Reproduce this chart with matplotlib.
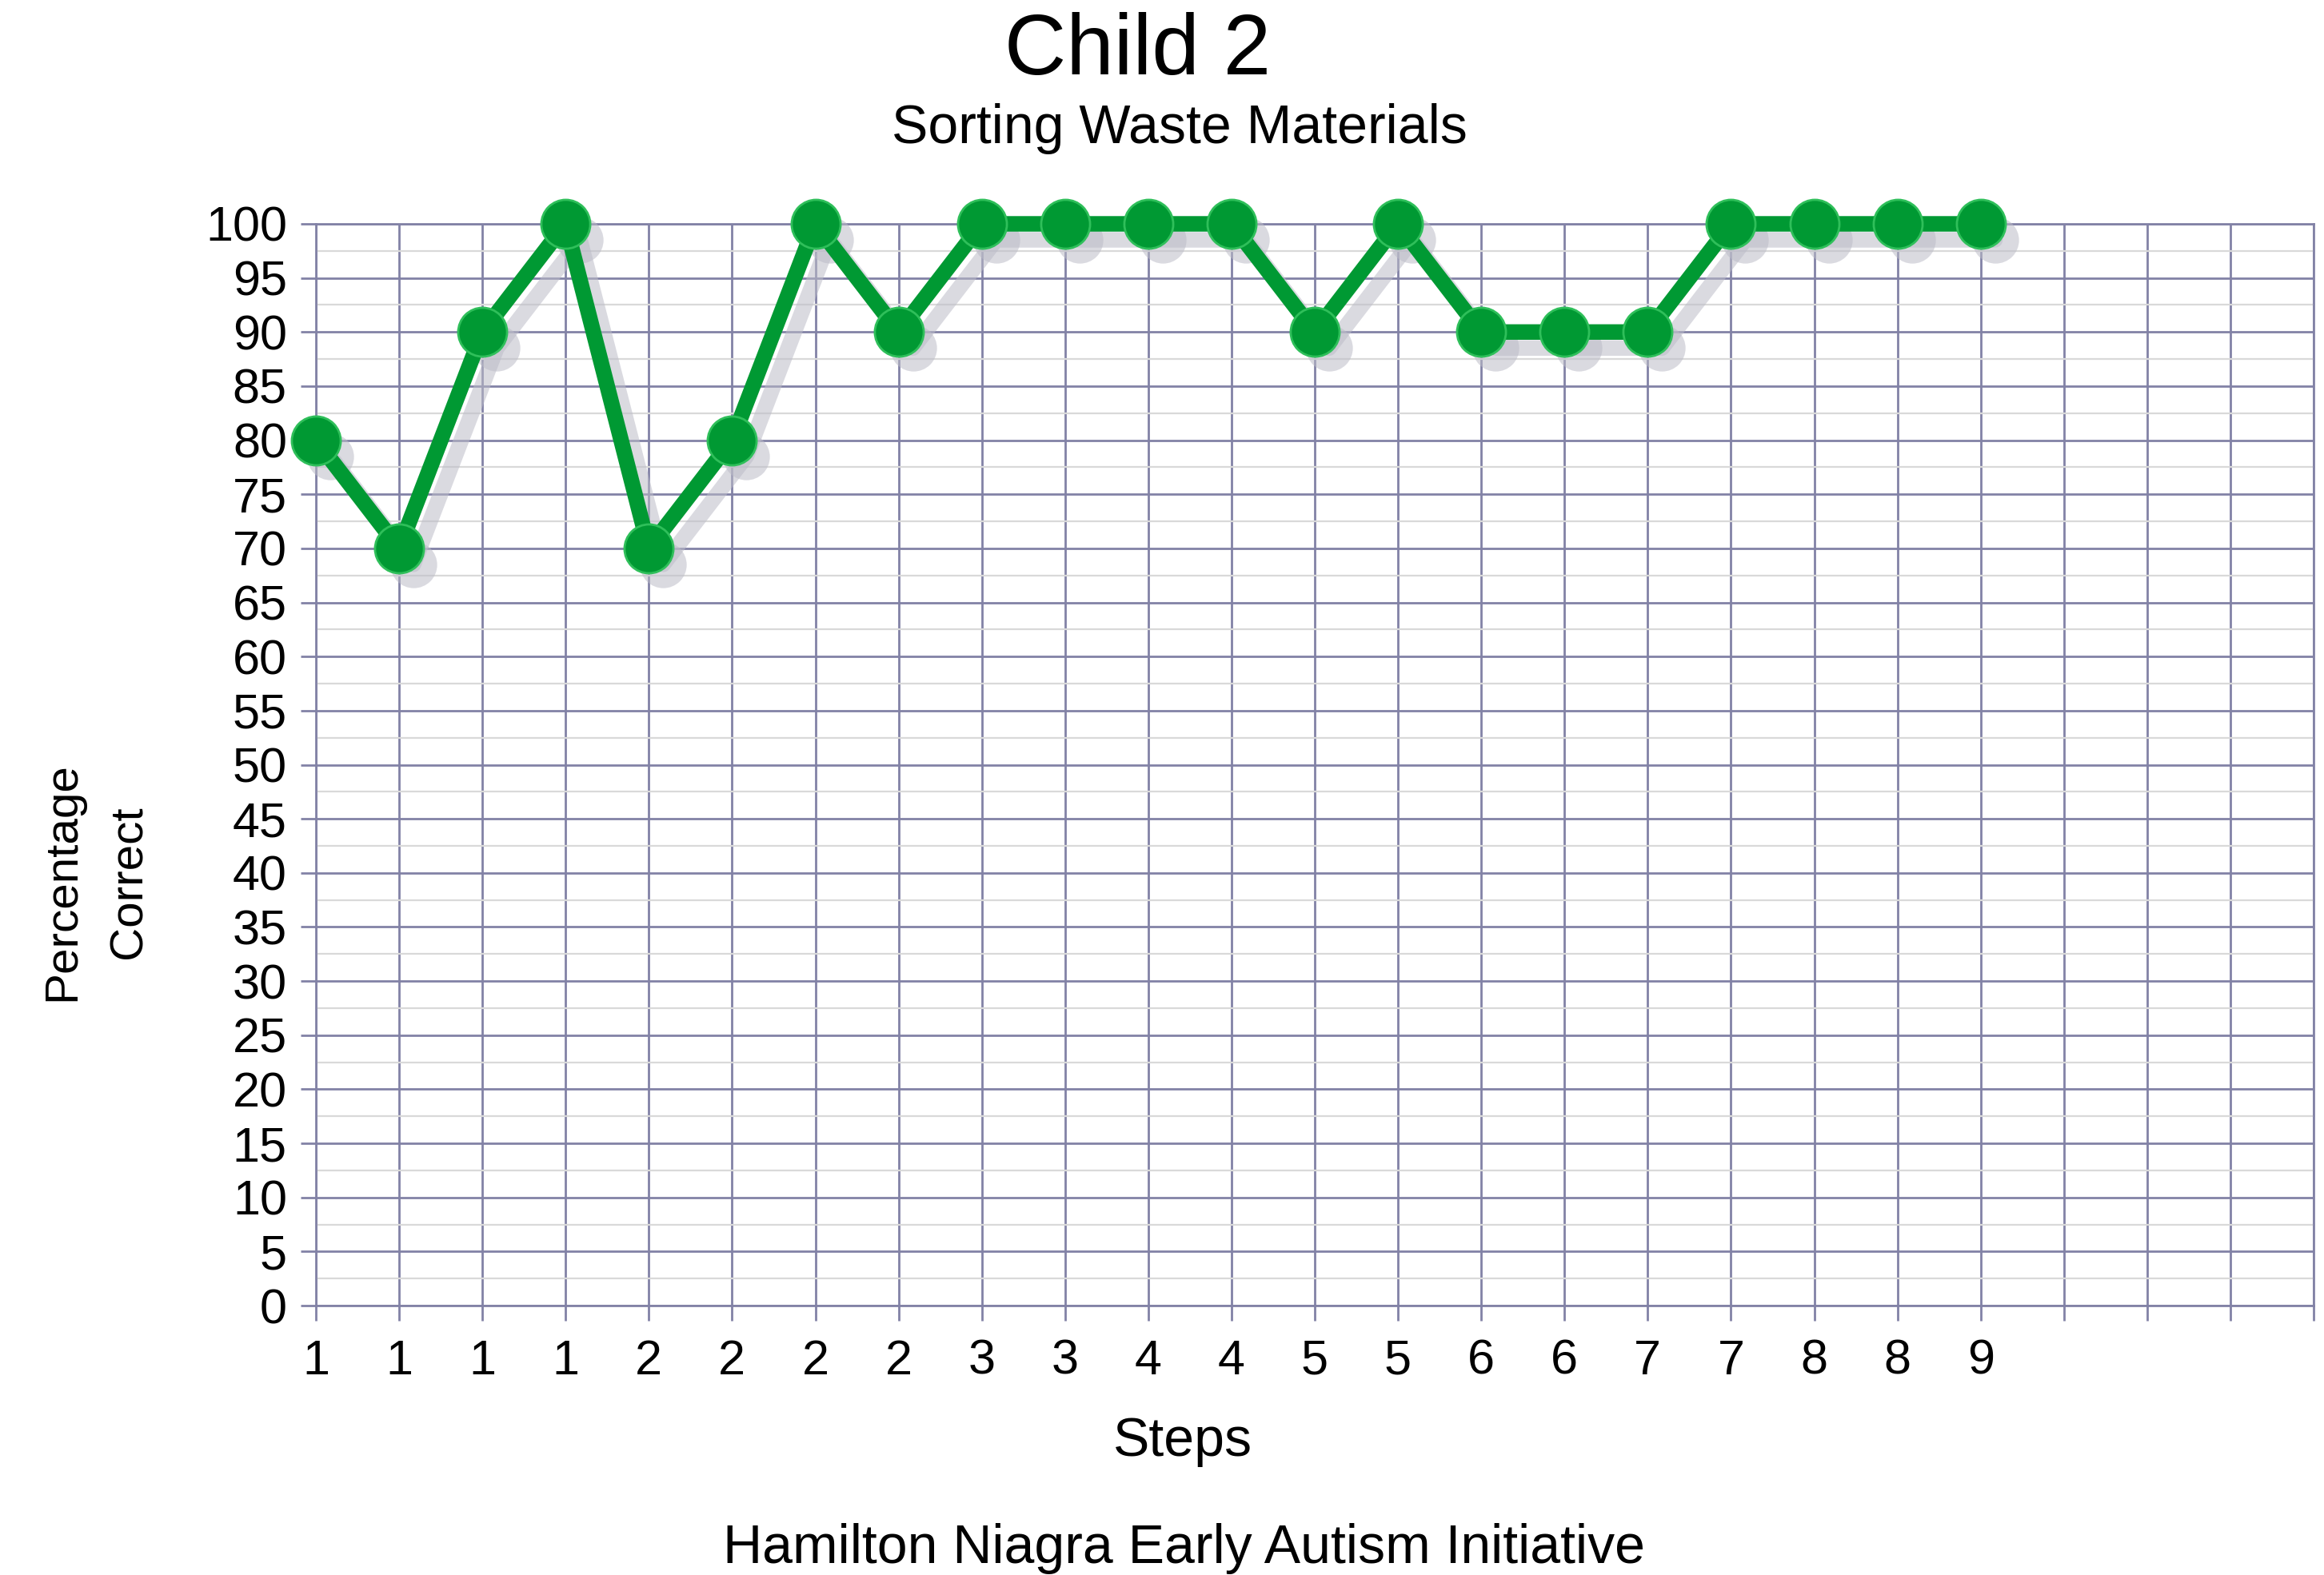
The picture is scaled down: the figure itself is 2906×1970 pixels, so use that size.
import matplotlib
matplotlib.use("Agg")
import matplotlib.pyplot as plt
import matplotlib.transforms as mtransforms
from matplotlib.ticker import MultipleLocator, FixedLocator

plt.rcParams['font.family'] = ['Liberation Sans', 'DejaVu Sans']

# Data
step_labels = ['1', '1', '1', '1', '2', '2', '2', '2', '3', '3', '4', '4',
               '5', '5', '6', '6', '7', '7', '8', '8', '9']
percent_correct = [80, 70, 90, 100, 70, 80, 100, 90, 100, 100, 100, 100,
                   90, 100, 90, 90, 90, 100, 100, 100, 100]
n_slots = 25  # grid columns (including empty ones at the right)

title = "Child 2"
subtitle = "Sorting Waste Materials"
xlabel = "Steps"
ylabel = "Percentage\nCorrect"
footer = "Hamilton Niagra Early Autism Initiative"

W, H = 2906, 1970
fig = plt.figure(figsize=(W / 100, H / 100), dpi=100)
fig.patch.set_facecolor('white')

left, right = 395 / W, 2893 / W
bottom, top = 1 - 1633 / H, 1 - 280 / H
ax = fig.add_axes([left, bottom, right - left, top - bottom])

grid_col = '#8282a6'
minor_col = '#d9d9d9'
green = '#009933'

x = list(range(len(percent_correct)))

ax.set_xlim(0, n_slots - 1)
ax.set_ylim(0, 100)

ax.yaxis.set_major_locator(MultipleLocator(5))
ax.yaxis.set_minor_locator(MultipleLocator(2.5))
ax.xaxis.set_major_locator(FixedLocator(list(range(n_slots))))
ax.set_xticklabels(step_labels + [''] * (n_slots - len(step_labels)))

ax.grid(which='major', axis='both', color=grid_col, linewidth=2.0, zorder=1)
ax.grid(which='minor', axis='y', color=minor_col, linewidth=1.6, zorder=0.5)
ax.set_axisbelow(True)

for s in ax.spines.values():
    s.set_color(grid_col)
    s.set_linewidth(2.0)

ax.tick_params(axis='both', which='major', direction='out', length=14, width=2.0,
               color=grid_col, labelsize=44, labelcolor='black')
ax.tick_params(axis='y', which='major', pad=12)
ax.tick_params(axis='x', which='major', pad=16)
ax.tick_params(axis='y', which='minor', length=0)

# shadow
shadow_tr = mtransforms.offset_copy(ax.transData, fig=fig, x=0.18, y=-0.20, units='inches')
ax.plot(x, percent_correct, color='#bcbcc8', linewidth=14, marker='o', markersize=42,
        markeredgewidth=0, alpha=0.55, transform=shadow_tr, clip_on=False, zorder=3,
        solid_joinstyle='round', solid_capstyle='round')
ax.plot(x, percent_correct, color=green, linewidth=14, marker='o', markersize=44,
        markeredgecolor='#2fbf5a', markeredgewidth=2, clip_on=False, zorder=4,
        solid_joinstyle='round', solid_capstyle='round')

fig.text(1423 / W, 1 - 65 / H, title, ha='center', va='center', fontsize=77)
fig.text(1475 / W, 1 - 161 / H, subtitle, ha='center', va='center', fontsize=49)
fig.text(1479 / W, 1 - 1803 / H, xlabel, ha='center', va='center', fontsize=49)
fig.text(1480 / W, 1 - 1937 / H, footer, ha='center', va='center', fontsize=49)
fig.text(120 / W, 1 - 1103 / H, ylabel, ha='center', va='center', fontsize=42,
         rotation=90, linespacing=1.7, multialignment='center')

fig.savefig('out.png', dpi=100, facecolor='white')
